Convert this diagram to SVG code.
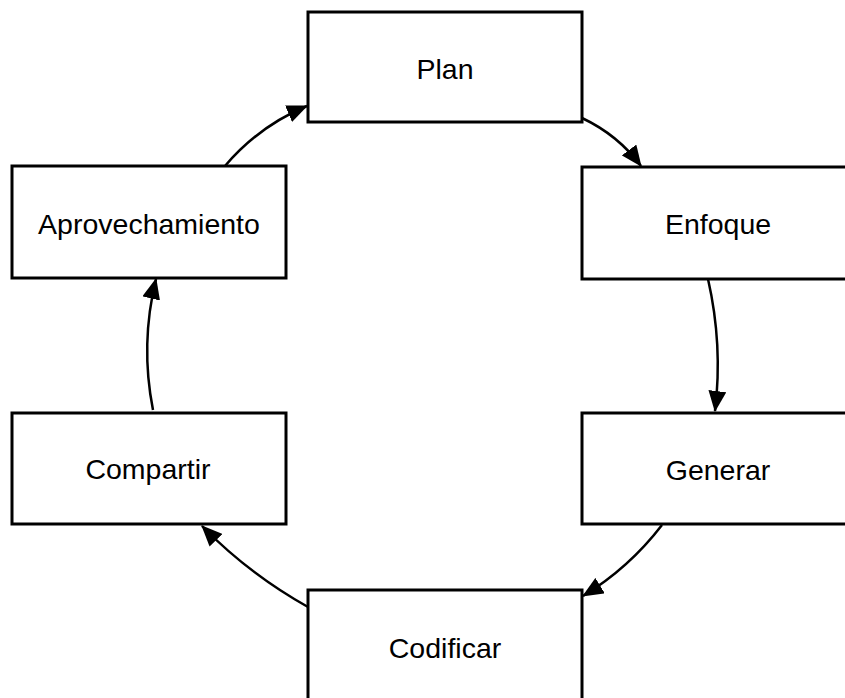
<svg xmlns="http://www.w3.org/2000/svg" width="845" height="698" viewBox="0 0 845 698">
  <style>
    .box { fill: #ffffff; stroke: #000000; stroke-width: 3; }
    .label { font-family: "Liberation Sans", Arial, Helvetica, sans-serif; font-size: 28.5px; fill: #000000; text-anchor: middle; }
    .link { fill: none; stroke: #000000; stroke-width: 2.5; marker-end: url(#arrow); }
  </style>
  <defs>
    <marker id="arrow" viewBox="0 0 21 18" refX="20" refY="9" markerWidth="21" markerHeight="18" markerUnits="userSpaceOnUse" orient="auto">
      <path d="M0,0 L21,9 L0,18 Z" fill="#000000"/>
    </marker>
  </defs>
  <rect width="845" height="698" fill="#ffffff"/>

  <!-- cycle connectors -->
  <g id="connectors">
    <path class="link" d="M582,118 Q618,135 641,166"/>
    <path class="link" d="M708,279 Q723,345 715,411"/>
    <path class="link" d="M662,525 Q629,568 583,596"/>
    <path class="link" d="M308,607 Q249,574 202,526"/>
    <path class="link" d="M153,410 Q140,344 156,279"/>
    <path class="link" d="M225,166 Q259,126 307,106"/>
  </g>

  <g id="plan">
    <rect class="box" x="308" y="12" width="274" height="110"/>
    <text class="label" x="445" y="79">Plan</text>
  </g>
  <g id="enfoque">
    <rect class="box" x="582" y="167" width="274" height="112"/>
    <text class="label" x="718" y="234">Enfoque</text>
  </g>
  <g id="generar">
    <rect class="box" x="582" y="413" width="274" height="111"/>
    <text class="label" x="718" y="480">Generar</text>
  </g>
  <g id="codificar">
    <rect class="box" x="308" y="590" width="274" height="112"/>
    <text class="label" x="445" y="658">Codificar</text>
  </g>
  <g id="compartir">
    <rect class="box" x="12" y="413" width="274" height="111"/>
    <text class="label" x="148" y="479">Compartir</text>
  </g>
  <g id="aprovechamiento">
    <rect class="box" x="12" y="166" width="274" height="112"/>
    <text class="label" x="149" y="234">Aprovechamiento</text>
  </g>
</svg>
